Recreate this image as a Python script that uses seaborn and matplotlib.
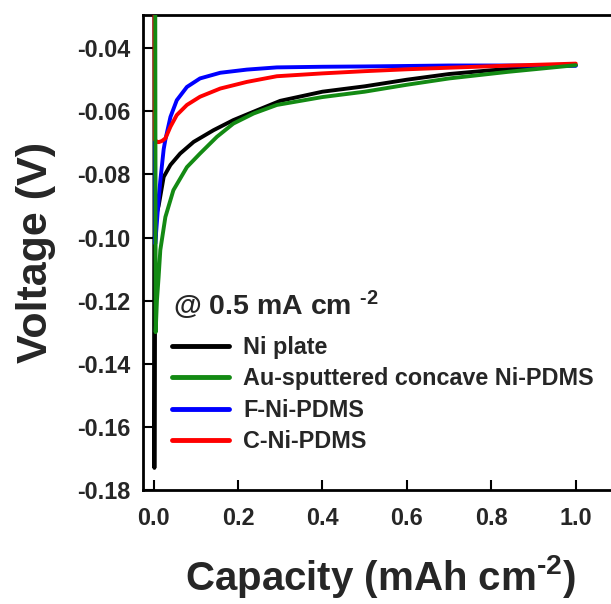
import numpy as np
import pandas as pd
import matplotlib
matplotlib.use("Agg")
import matplotlib.pyplot as plt
import seaborn as sns

# Galvanostatic voltage profiles at 0.5 mA cm^-2
ni_plate_cap = [0.002, 0.002, 0.003, 0.006, 0.012, 0.024, 0.040, 0.063, 0.095, 0.142,
                0.189, 0.245, 0.300, 0.400, 0.500, 0.600, 0.700, 0.800, 0.900, 1.000]
ni_plate_v = [-0.020, -0.173, -0.100, -0.093, -0.090, -0.0808, -0.0770, -0.0734, -0.0697, -0.0660,
              -0.0628, -0.0597, -0.0567, -0.0538, -0.0521, -0.0500, -0.0482, -0.0470, -0.0461, -0.0454]

au_cap = [0.004, 0.005, 0.008, 0.012, 0.016, 0.028, 0.047, 0.079, 0.110, 0.150,
          0.189, 0.237, 0.292, 0.400, 0.500, 0.600, 0.700, 0.840, 1.000]
au_v = [-0.020, -0.130, -0.120, -0.1125, -0.104, -0.0935, -0.0850, -0.0777, -0.0734, -0.0681,
        -0.0639, -0.0607, -0.0580, -0.0555, -0.0538, -0.0516, -0.0496, -0.0475, -0.0454]

f_cap = [0.003, 0.004, 0.008, 0.012, 0.016, 0.024, 0.028, 0.040, 0.055, 0.079,
         0.110, 0.158, 0.221, 0.292, 0.400, 0.500, 0.700, 0.850, 1.000]
f_v = [-0.020, -0.102, -0.095, -0.088, -0.082, -0.072, -0.069, -0.0618, -0.0565, -0.0523,
       -0.0496, -0.0478, -0.0468, -0.0461, -0.0459, -0.0458, -0.0455, -0.0455, -0.0456]

c_cap = [0.002, 0.003, 0.008, 0.012, 0.020, 0.028, 0.040, 0.055, 0.079, 0.110,
         0.158, 0.221, 0.292, 0.400, 0.500, 0.600, 0.700, 0.850, 1.000]
c_v = [-0.020, -0.069, -0.0697, -0.0698, -0.0694, -0.0686, -0.0649, -0.0612, -0.0580, -0.0554,
       -0.0528, -0.0507, -0.0489, -0.0480, -0.0473, -0.0467, -0.0462, -0.0455, -0.0449]

labels = ["Ni plate", "Au-sputtered concave Ni-PDMS", "F-Ni-PDMS", "C-Ni-PDMS"]
colors = ["#000000", "#138a13", "#0000ff", "#ff0000"]
x_ticks = [0.0, 0.2, 0.4, 0.6, 0.8, 1.0]
y_ticks = [-0.18, -0.16, -0.14, -0.12, -0.10, -0.08, -0.06, -0.04]

series = [(ni_plate_cap, ni_plate_v), (au_cap, au_v), (f_cap, f_v), (c_cap, c_v)]
frames = []
for lab, (cx, cy) in zip(labels, series):
    frames.append(pd.DataFrame({"cap": cx, "volt": cy, "sample": lab,
                                "order": np.arange(len(cx))}))
df = pd.concat(frames, ignore_index=True)

sns.set_theme(style="ticks")
plt.rcParams["font.family"] = ["Liberation Sans", "DejaVu Sans"]
plt.rcParams["font.weight"] = "bold"
plt.rcParams["mathtext.fontset"] = "custom"
plt.rcParams["mathtext.rm"] = "Liberation Sans:bold"
plt.rcParams["mathtext.bf"] = "Liberation Sans:bold"
plt.rcParams["mathtext.it"] = "Liberation Sans:bold:italic"

W, H = 611, 604
fig = plt.figure(figsize=(W / 100, H / 100), dpi=100)
ax = fig.add_axes([143 / W, (H - 490) / H, 475 / W, 475 / H])

zorders = {"Ni plate": 2, "Au-sputtered concave Ni-PDMS": 5, "F-Ni-PDMS": 3, "C-Ni-PDMS": 4}
for lab, col in zip(labels, colors):
    sub = df[df["sample"] == lab]
    sns.lineplot(data=sub, x="cap", y="volt", sort=False, estimator=None,
                 color=col, linewidth=2.8, ax=ax, label=lab, zorder=zorders[lab])

ax.set_xlim(-0.025, 1.1)
ax.set_ylim(-0.18, -0.0295)
ax.set_xticks(x_ticks)
ax.set_xticklabels([f"{t:.1f}" for t in x_ticks])
ax.set_yticks(y_ticks)
ax.set_yticklabels([f"{t:.2f}" for t in y_ticks])

for side in ["left", "bottom", "top", "right"]:
    ax.spines[side].set_linewidth(2.0)
    ax.spines[side].set_color("black")
ax.tick_params(axis="both", direction="in", length=7, width=1.5, color="black",
               labelsize=16.8, top=False, right=False)
ax.tick_params(axis="y", pad=9)
ax.tick_params(axis="x", pad=12)
for t in ax.get_xticklabels() + ax.get_yticklabels():
    t.set_fontweight("bold")

ax.set_xlabel("Capacity (mAh cm$^{\\text{-2}}$)", fontsize=29, fontweight="bold", labelpad=17)
ax.set_ylabel("Voltage (V)", fontsize=31, fontweight="bold", labelpad=15)

handles, hlabels = ax.get_legend_handles_labels()
leg = ax.legend(handles, hlabels, loc="upper left",
                bbox_to_anchor=(172 / W, 1 - 336 / H), bbox_transform=fig.transFigure,
                frameon=False, fontsize=16.8, handlelength=2.43, handletextpad=0.62,
                labelspacing=0.36, borderpad=0, borderaxespad=0)
for line in leg.get_lines():
    line.set_linewidth(3.5)
for txt in leg.get_texts():
    txt.set_fontweight("bold")

fig.text(173 / W, 1 - 315 / H, "@ 0.5 mA cm $^{\\text{-2}}$", fontsize=20.5,
         fontweight="bold", ha="left", va="baseline")

fig.savefig("out.png", dpi=100)
